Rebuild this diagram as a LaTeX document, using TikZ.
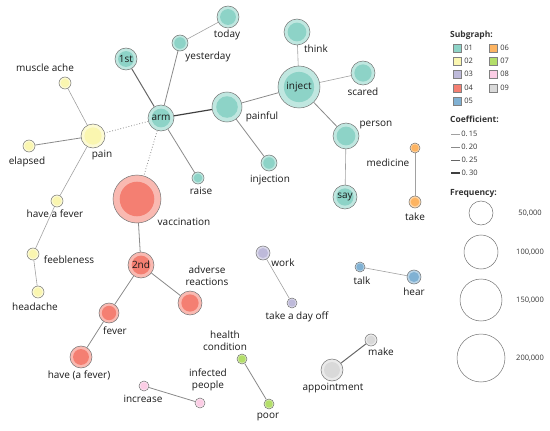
\documentclass[tikz,border=0pt]{standalone}
\usepackage{fontspec}
\setmainfont{Open Sans}
\usepackage{tikz}
\usetikzlibrary{positioning, backgrounds}
\definecolor{sg01}{HTML}{8DD3C7}
\definecolor{sg02}{HTML}{FAF6B0}
\definecolor{sg03}{HTML}{BEBADA}
\definecolor{sg04}{HTML}{F47F72}
\definecolor{sg05}{HTML}{80B1D3}
\definecolor{sg06}{HTML}{FDB462}
\definecolor{sg07}{HTML}{B3DE69}
\definecolor{sg08}{HTML}{FCCDE5}
\definecolor{sg09}{HTML}{D9D9D9}
\definecolor{edgegray}{HTML}{8A8A8A}

\tikzset{
  wcirc/.style={circle, draw=black!55, line width=0.5pt, inner sep=0pt},
  wlabel/.style={font=\fontsize{10}{12}\selectfont, text=black!90, align=center, inner sep=0pt},
  legtext/.style={font=\fontsize{7.5}{9}\selectfont, text=black!80, inner sep=1pt},
  legtitle/.style={font=\fontsize{8.5}{10}\selectfont\bfseries, text=black!80, anchor=west, inner sep=0pt},
  swatch/.style={draw=black!50, line width=0.4pt, minimum size=8pt, inner sep=0pt},
  c15/.style={draw=edgegray!80, line width=0.6pt},
  c20/.style={draw=edgegray, line width=0.8pt},
  c25/.style={draw=black!60, line width=1pt},
  c30/.style={draw=black!75, line width=1.2pt},
  weak/.style={draw=edgegray, line width=0.8pt, dotted},
}

% outer circle = frequency, inner circle in the subgraph colour
\newcommand{\wordnode}[4]{%
  \node[wcirc, fill=#4!55!white, minimum size={2*#3pt}] (#1) at (#2) {};
  \fill[#4] (#1.center) circle ({0.72*#3pt});
}

\begin{document}
\begin{tikzpicture}[x=1pt, y=-1pt]
    \useasboundingbox (0,0) rectangle (550,431);

    % subgraph 01
    \wordnode{today}{228,17}{11}{sg01}
    \wordnode{yesterday}{180,43}{8}{sg01}
    \wordnode{first}{126,59}{11}{sg01}
    \wordnode{arm}{161,118}{13}{sg01}
    \wordnode{painful}{227,107}{15}{sg01}
    \wordnode{inject}{299,87}{21}{sg01}
    \wordnode{think}{297,32}{13}{sg01}
    \wordnode{scared}{363,73}{12}{sg01}
    \wordnode{person}{346,136}{13}{sg01}
    \wordnode{say}{345,197}{12}{sg01}
    \wordnode{injection}{269,163}{8}{sg01}
    \wordnode{raise}{198,178}{6}{sg01}
    % subgraph 02
    \wordnode{pain}{93,136}{12}{sg02}
    \wordnode{muscle}{65,83}{6}{sg02}
    \wordnode{elapsed}{29,146}{6}{sg02}
    \wordnode{havefever}{57,201}{6}{sg02}
    \wordnode{feeble}{33,254}{6}{sg02}
    \wordnode{headache}{38,292}{6}{sg02}
    % subgraph 04
    \wordnode{vacc}{137,199}{24}{sg04}
    \wordnode{second}{141,265}{13}{sg04}
    \wordnode{adverse}{190,303}{12}{sg04}
    \wordnode{fever}{109,313}{10}{sg04}
    \wordnode{havea}{81,357}{11}{sg04}
    % subgraphs 03, 05 - 09
    \wordnode{work}{263,253}{7}{sg03}
    \wordnode{dayoff}{292,303}{5}{sg03}
    \wordnode{talk}{360,267}{5}{sg05}
    \wordnode{hear}{414,277}{7}{sg05}
    \wordnode{medicine}{415,148}{5}{sg06}
    \wordnode{take}{415,202}{6}{sg06}
    \wordnode{health}{242,359}{5}{sg07}
    \wordnode{poor}{269,404}{5}{sg07}
    \wordnode{increase}{144,386}{5}{sg08}
    \wordnode{infected}{200,403}{5}{sg08}
    \wordnode{make}{371,340}{6}{sg09}
    \wordnode{appoint}{332,370}{11}{sg09}

    \begin{scope}[on background layer]
        \draw[c15] (today) -- (yesterday);
        \draw[c20] (yesterday) -- (arm);
        \draw[c25] (first) -- (arm);
        \draw[c30] (arm) -- (painful);
        \draw[c20] (painful) -- (inject);
        \draw[c20] (arm) -- (raise);
        \draw[weak] (arm) -- (pain);
        \draw[weak] (arm) -- (vacc);
        \draw[c20] (painful) -- (injection);
        \draw[c15] (inject) -- (think);
        \draw[c15] (inject) -- (scared);
        \draw[c20] (inject) -- (person);
        \draw[c15] (person) -- (say);
        \draw[c15] (medicine) -- (take);
        \draw[c15] (pain) -- (muscle);
        \draw[c20] (pain) -- (elapsed);
        \draw[c15] (pain) -- (havefever);
        \draw[c15] (havefever) -- (feeble);
        \draw[c15] (feeble) -- (headache);
        \draw[c20] (vacc) -- (second);
        \draw[c20] (second) -- (adverse);
        \draw[c20] (second) -- (fever);
        \draw[c20] (fever) -- (havea);
        \draw[c15] (work) -- (dayoff);
        \draw[c15] (talk) -- (hear);
        \draw[c25] (make) -- (appoint);
        \draw[c20] (health) -- (poor);
        \draw[c20] (increase) -- (infected);
    \end{scope}

    % words inside the circles
    \node[wlabel] (first-t) at (first) {1st};
    \node[wlabel] (arm-t) at (arm) {arm};
    \node[wlabel] (inject-t) at (inject) {inject};
    \node[wlabel] (second-t) at (second) {2nd};
    \node[wlabel] (say-t) at (say) {say};

    % words beside the circles
    \node[wlabel] (today-t) at (227,35) {today};
    \node[wlabel] (yesterday-t) at (208,57) {yesterday};
    \node[wlabel] (muscle-t) at (45,68) {muscle ache};
    \node[wlabel] (painful-t) at (262,117) {painful};
    \node[wlabel] (pain-t) at (102,155) {pain};
    \node[wlabel] (elapsed-t) at (27,162) {elapsed};
    \node[wlabel] (raise-t) at (201,191) {raise};
    \node[wlabel] (injection-t) at (270,180) {injection};
    \node[wlabel] (havefever-t) at (55,214) {have a fever};
    \node[wlabel] (vacc-t) at (184,222) {vaccination};
    \node[wlabel] (think-t) at (316,49) {think};
    \node[wlabel] (scared-t) at (363,92) {scared};
    \node[wlabel] (person-t) at (376,125) {person};
    \node[wlabel] (medicine-t) at (388,163) {medicine};
    \node[wlabel] (take-t) at (415,217) {take};
    \node[wlabel] (feeble-t) at (69,260) {feebleness};
    \node[wlabel] (headache-t) at (35,307) {headache};
    \node[wlabel] (adverse-t) at (207,276) {adverse\\reactions};
    \node[wlabel] (fever-t) at (115,331) {fever};
    \node[wlabel] (havea-t) at (79,375) {have (a fever)};
    \node[wlabel] (health-t) at (225,341) {health\\condition};
    \node[wlabel] (poor-t) at (268,417) {poor};
    \node[wlabel] (infected-t) at (208,380) {infected\\people};
    \node[wlabel] (increase-t) at (143,399) {increase};
    \node[wlabel] (work-t) at (283,263) {work};
    \node[wlabel] (dayoff-t) at (297,317) {take a day off};
    \node[wlabel] (talk-t) at (362,281) {talk};
    \node[wlabel] (hear-t) at (414,292) {hear};
    \node[wlabel] (make-t) at (381,352) {make};
    \node[wlabel] (appoint-t) at (333,388) {appointment};

    % legend: subgraphs
    \node[legtitle] (sg-title) at (450,35) {Subgraph:};
    \node[swatch, fill=sg01] (sw01) at (457,48) {};
    \node[swatch, fill=sg02] (sw02) at (457,61) {};
    \node[swatch, fill=sg03] (sw03) at (457,74) {};
    \node[swatch, fill=sg04] (sw04) at (457,88) {};
    \node[swatch, fill=sg05] (sw05) at (457,101) {};
    \node[swatch, fill=sg06] (sw06) at (493,48) {};
    \node[swatch, fill=sg07] (sw07) at (493,61) {};
    \node[swatch, fill=sg08] (sw08) at (493,74) {};
    \node[swatch, fill=sg09] (sw09) at (493,88) {};
    \foreach \s in {01,02,03,04,05,06,07,08,09}
        \node[legtext, right=2pt of sw\s] (sw\s-t) {\s};

    % legend: coefficients
    \node[legtitle] (co-title) at (450,119) {Coefficient:};
    \draw[c15] (451,134) -- (460,134) node[legtext, right] (co15) {0.\,15};
    \draw[c20] (451,147) -- (460,147) node[legtext, right] (co20) {0.\,20};
    \draw[c25] (451,160) -- (460,160) node[legtext, right] (co25) {0.\,25};
    \draw[c30] (451,173) -- (460,173) node[legtext, right] (co30) {0.\,30};

    % legend: frequency
    \node[legtitle] (fr-title) at (450,193) {Frequency:};
    \node[wcirc, minimum size=24pt] (fr50) at (481,213) {};
    \node[wcirc, minimum size=34pt] (fr100) at (481,252) {};
    \node[wcirc, minimum size=42pt] (fr150) at (481,300) {};
    \node[wcirc, minimum size=48pt] (fr200) at (481,358) {};
    \node[legtext] (fr50-t) at (530,213) {50,000};
    \node[legtext] (fr100-t) at (530,252) {100,000};
    \node[legtext] (fr150-t) at (530,300) {150,000};
    \node[legtext] (fr200-t) at (530,358) {200,000};
\end{tikzpicture}
\end{document}
